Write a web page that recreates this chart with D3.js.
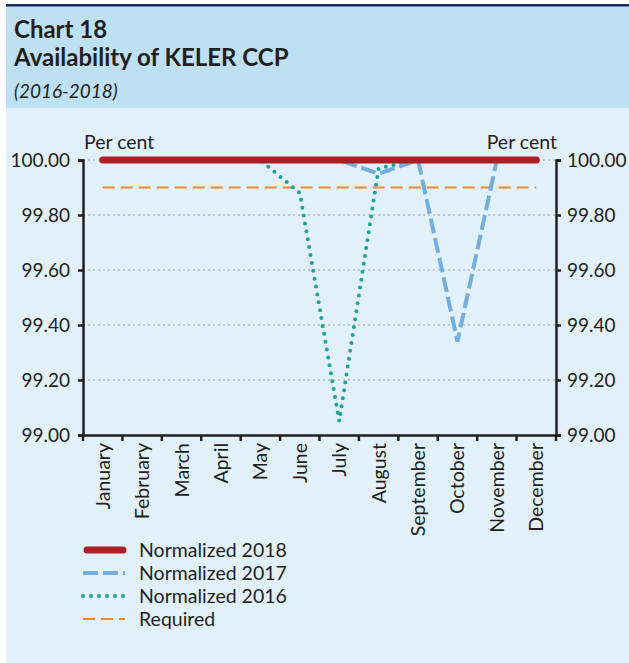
<!DOCTYPE html>
<html><head><meta charset="utf-8">
<script src="https://cdn.jsdelivr.net/npm/d3@7"></script>
<style>
html,body{margin:0;padding:0;background:#fff;}
svg{display:block;}
text{font-family:Lato,"Open Sans",sans-serif;fill:#231f20;}
</style></head>
<body>
<svg id="c" width="629" height="663"></svg>
<script>
const months = ["January","February","March","April","May","June","July","August","September","October","November","December"];
const norm2018 = [100,100,100,100,100,100,100,100,100,100,100,100];
const norm2017 = [100,100,100,100,100,100,100,99.95,100,99.34,100,100];
const norm2016 = [100,100,100,100,100,99.88,99.05,99.97,100,100,100,100];
const required = [99.9,99.9,99.9,99.9,99.9,99.9,99.9,99.9,99.9,99.9,99.9,99.9];
const yTicks = [99.0,99.2,99.4,99.6,99.8,100.0];
const legendLabels = ["Normalized 2018","Normalized 2017","Normalized 2016","Required"];

const svg = d3.select("#c");
svg.append("rect").attr("x",6).attr("y",6).attr("width",623).attr("height",102).attr("fill","#bde0f2");
svg.append("rect").attr("x",6).attr("y",108).attr("width",623).attr("height",555).attr("fill","#e2f1f9");
svg.append("rect").attr("x",6).attr("y",4).attr("width",623).attr("height",2.5).attr("fill","#1a2b5e");

svg.append("text").attr("x",14).attr("y",38).attr("font-size",24).attr("font-weight","bold").text("Chart 18");
svg.append("text").attr("x",14).attr("y",66).attr("font-size",24).attr("font-weight","bold").text("Availability of KELER CCP");
svg.append("text").attr("x",14).attr("y",98).attr("font-size",19).attr("font-style","italic").text("(2016-2018)");

const L = 83, R = 556, T = 160, B = 435;
const x = d3.scaleBand().domain(months).range([L,R]).padding(0);
const y = d3.scaleLinear().domain([99,100]).range([B,T]);
const cx = m => x(m) + x.bandwidth()/2;

svg.append("g").selectAll("line").data(yTicks.filter(v=>v>99)).join("line")
  .attr("x1",L).attr("x2",R).attr("y1",d=>y(d)).attr("y2",d=>y(d))
  .attr("stroke","#9a9a9a").attr("stroke-width",1).attr("stroke-dasharray","2,3");

const fmt = d3.format(".2f");
const gl = svg.append("g").attr("transform",`translate(${L},0)`)
  .call(d3.axisLeft(y).tickValues(yTicks).tickFormat(fmt).tickSize(5).tickPadding(8));
const gr = svg.append("g").attr("transform",`translate(${R},0)`)
  .call(d3.axisRight(y).tickValues(yTicks).tickFormat(fmt).tickSize(5).tickPadding(6));
const gb = svg.append("g").attr("transform",`translate(0,${B})`)
  .call(d3.axisBottom(x).tickSize(0).tickPadding(0).tickFormat(""));
[gl,gr].forEach(g=>{
  g.select(".domain").attr("stroke","#231f20").attr("stroke-width",2.5);
  g.selectAll(".tick line").attr("stroke","#231f20").attr("stroke-width",2.5);
  g.selectAll(".tick text").attr("font-size",19).attr("font-family","Lato,sans-serif").attr("fill","#231f20");
});
gb.select(".domain").attr("stroke","#231f20").attr("stroke-width",2.5);
const bounds = months.map(m=>x(m)).concat([R]);
gb.selectAll(".bt").data(bounds).join("line").attr("class","bt")
  .attr("x1",d=>d).attr("x2",d=>d).attr("y1",0).attr("y2",6)
  .attr("stroke","#231f20").attr("stroke-width",2.5);
gb.selectAll(".ml").data(months).join("text").attr("class","ml")
  .attr("transform",d=>`translate(${cx(d)+7},8) rotate(-90)`)
  .attr("text-anchor","end").attr("font-size",19.5).text(d=>d);

svg.append("text").attr("x",84).attr("y",149).attr("font-size",19.5).text("Per cent");
svg.append("text").attr("x",557).attr("y",149).attr("font-size",19.5).attr("text-anchor","end").text("Per cent");

const line = d3.line().x((d,i)=>cx(months[i])).y(d=>y(d));
const series = [
  {data:required, stroke:"#f0892a", w:2, dash:"12,6", cap:"butt"},
  {data:norm2016, stroke:"#1aa39a", w:4, dash:"0,8", cap:"round"},
  {data:norm2017, stroke:"#74aedc", w:4, dash:"15,5", cap:"butt"},
  {data:norm2018, stroke:"#ab1f24", w:7, dash:null, cap:"round"}
];
svg.append("g").selectAll("path").data(series).join("path")
  .attr("d",d=>line(d.data)).attr("fill","none")
  .attr("stroke",d=>d.stroke).attr("stroke-width",d=>d.w)
  .attr("stroke-dasharray",d=>d.dash).attr("stroke-linecap",d=>d.cap);

const leg = [series[3],series[2],series[1],series[0]];
const lg = svg.append("g");
leg.forEach((s,i)=>{
  const yy = 550 + i*23;
  const big = s.cap==="round" && s.w>5;
  lg.append("line").attr("x1",big?87:83).attr("x2",big?123:125)
    .attr("y1",yy).attr("y2",yy).attr("stroke",s.stroke).attr("stroke-width",s.w)
    .attr("stroke-dasharray",s.dash).attr("stroke-linecap",s.cap);
  lg.append("text").attr("x",139).attr("y",yy+7).attr("font-size",19.5).text(legendLabels[i]);
});
</script>
</body></html>
